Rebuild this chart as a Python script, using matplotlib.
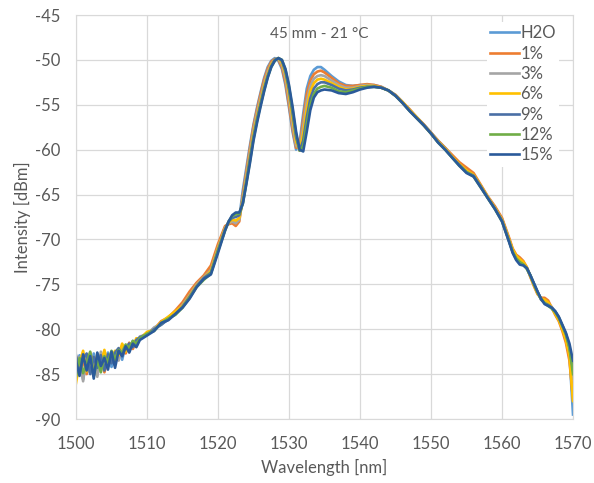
import matplotlib
matplotlib.use("Agg")
import matplotlib.pyplot as plt

# wavelength grid [nm]
wavelength = [
    1500.0, 1500.5, 1501.0, 1501.5, 1502.0, 1502.5, 1503.0, 1503.5, 1504.0, 1504.5,
    1505.0, 1505.5, 1506.0, 1506.5, 1507.0, 1507.5, 1508.0, 1508.5, 1509.0,
    1510, 1511, 1512, 1513, 1514, 1515, 1516, 1517, 1518, 1519, 1520, 1521,
    1521.5, 1522.0, 1522.5, 1523.0, 1523.5, 1524.0, 1524.5, 1525.0, 1525.5, 1526.0,
    1526.5, 1527.0, 1527.5, 1528.0, 1528.5, 1529.0, 1529.5, 1530.0, 1530.5, 1531.0,
    1531.5, 1532.0, 1532.5, 1533.0, 1533.5, 1534.0, 1534.5, 1535.0,
    1536, 1537, 1538, 1539, 1540, 1541, 1542, 1543, 1544, 1545, 1546, 1547, 1548,
    1549, 1550, 1551, 1552, 1553, 1554, 1555, 1556, 1557, 1558, 1559, 1560, 1561,
    1561.5, 1562.0, 1562.5, 1563.0, 1563.5, 1564.0, 1564.5, 1565.0, 1565.5, 1566.0,
    1566.5, 1567.0, 1567.5, 1568.0, 1568.5, 1569.0, 1569.5, 1570.0,
]

# intensity [dBm] per concentration
h2o = [
    -84.8, -82.9, -85.6, -83.4, -84.9, -82.7, -85.1, -83.0, -84.0, -82.6,
    -84.2, -83.1, -82.2, -83.4, -81.8, -82.3, -81.3, -81.9, -80.9,
    -80.5, -79.9, -79.5, -78.8, -78.1, -77.2, -76.0, -74.9, -74.2, -73.2, -70.8, -68.6,
    -68.2, -68.0, -68.2, -67.6, -64.5, -62.0, -59.5, -57.2, -55.3, -53.6,
    -52.0, -50.8, -50.1, -49.8, -50.1, -51.0, -52.8, -55.3, -58.0, -60.0,
    -59.2, -56.0, -53.2, -51.8, -51.1, -50.8, -50.8, -51.1,
    -51.8, -52.4, -52.8, -52.9, -52.8, -52.8, -52.8, -53.0, -53.4, -53.9, -54.7, -55.6, -56.4,
    -57.2, -58.1, -59.0, -59.8, -60.7, -61.6, -62.3, -62.9, -64.0, -65.3, -66.4, -67.7, -70.0,
    -71.2, -72.0, -72.3, -72.6, -73.2, -74.1, -75.0, -75.9, -76.6, -77.0,
    -77.3, -77.6, -78.2, -78.9, -79.8, -80.9, -82.8, -89.5,
]
c1 = [
    -83.0, -84.6, -83.5, -85.0, -82.6, -84.2, -83.6, -82.8, -84.8, -83.3,
    -82.7, -83.6, -82.8, -82.1, -82.7, -81.5, -82.2, -81.4, -81.0,
    -80.4, -80.0, -79.1, -78.7, -77.9, -77.0, -75.8, -74.8, -74.0, -72.9, -70.5, -68.5,
    -68.3, -68.2, -68.5, -68.0, -65.0, -62.4, -59.8, -57.4, -55.5, -53.8,
    -52.2, -51.0, -50.2, -49.9, -50.0, -50.8, -52.5, -55.0, -57.7, -59.8,
    -59.6, -56.6, -53.8, -52.3, -51.6, -51.3, -51.2, -51.4,
    -52.0, -52.6, -52.9, -52.9, -52.8, -52.7, -52.8, -53.0, -53.4, -53.9, -54.7, -55.5, -56.4,
    -57.2, -58.1, -59.0, -59.8, -60.6, -61.4, -62.0, -62.6, -63.9, -65.2, -66.3, -67.6, -69.8,
    -71.0, -71.7, -72.0, -72.4, -73.1, -74.2, -75.2, -76.1, -76.5, -76.5,
    -76.8, -77.6, -78.4, -79.1, -80.2, -81.5, -83.5, -87.8,
]
c3 = [
    -84.2, -83.1, -85.8, -82.9, -84.0, -83.6, -85.3, -82.5, -83.9, -84.1,
    -82.9, -82.6, -83.5, -82.0, -82.3, -81.9, -81.4, -81.7, -80.8,
    -80.6, -79.8, -79.4, -78.9, -78.2, -77.3, -76.2, -75.0, -74.2, -73.4, -70.9, -68.7,
    -68.2, -68.0, -68.2, -67.8, -65.4, -62.9, -60.3, -57.8, -55.9, -54.2,
    -52.6, -51.3, -50.4, -50.0, -49.9, -50.5, -52.0, -54.4, -57.2, -59.5,
    -60.0, -57.4, -54.6, -52.9, -52.1, -51.8, -51.7, -51.8,
    -52.3, -52.8, -53.1, -53.1, -52.9, -52.8, -52.9, -53.1, -53.4, -54.0, -54.8, -55.6, -56.5,
    -57.3, -58.2, -59.1, -59.9, -60.8, -61.7, -62.4, -62.9, -64.1, -65.3, -66.5, -67.8, -70.1,
    -71.3, -72.0, -72.4, -72.7, -73.2, -74.1, -75.0, -75.9, -76.7, -77.0,
    -77.2, -77.5, -78.1, -78.8, -79.7, -80.7, -82.3, -85.5,
]
c6 = [
    -86.0, -83.7, -82.4, -84.7, -83.3, -84.9, -82.8, -83.9, -82.3, -84.0,
    -83.2, -82.4, -82.9, -81.6, -82.5, -81.7, -81.9, -81.0, -81.1,
    -80.3, -80.1, -79.2, -78.6, -78.0, -77.4, -76.3, -75.1, -74.3, -73.5, -71.0, -68.8,
    -68.1, -67.8, -67.9, -67.6, -65.7, -63.2, -60.7, -58.2, -56.3, -54.6,
    -52.9, -51.6, -50.5, -50.0, -49.8, -50.3, -51.6, -53.8, -56.5, -59.1,
    -60.1, -58.2, -55.5, -53.5, -52.6, -52.2, -52.1, -52.2,
    -52.6, -53.0, -53.3, -53.2, -53.0, -52.9, -52.9, -53.1, -53.4, -54.0, -54.7, -55.6, -56.4,
    -57.3, -58.2, -59.1, -59.9, -60.8, -61.6, -62.3, -62.8, -64.0, -65.3, -66.5, -67.8, -70.0,
    -71.1, -71.8, -72.2, -72.5, -73.1, -74.1, -75.1, -76.0, -76.6, -76.7,
    -77.0, -77.6, -78.3, -79.0, -80.0, -81.2, -83.0, -88.0,
]
c9 = [
    -82.9, -84.9, -83.3, -82.7, -85.0, -83.1, -84.3, -82.9, -84.6, -82.8,
    -83.8, -82.6, -82.1, -83.0, -82.0, -81.6, -82.0, -81.2, -80.9,
    -80.6, -80.0, -79.5, -78.9, -78.3, -77.5, -76.4, -75.2, -74.3, -73.7, -71.2, -68.9,
    -68.0, -67.6, -67.5, -67.3, -65.9, -63.5, -61.0, -58.6, -56.6, -54.9,
    -53.2, -51.8, -50.7, -50.0, -49.8, -50.1, -51.3, -53.3, -55.9, -58.6,
    -60.1, -59.0, -56.4, -54.3, -53.2, -52.7, -52.5, -52.5,
    -52.8, -53.2, -53.4, -53.3, -53.1, -53.0, -53.0, -53.1, -53.4, -54.0, -54.8, -55.7, -56.5,
    -57.3, -58.2, -59.2, -60.0, -60.9, -61.7, -62.5, -62.9, -64.1, -65.4, -66.6, -67.9, -70.2,
    -71.4, -72.2, -72.6, -72.8, -73.2, -74.0, -74.9, -75.8, -76.7, -77.1,
    -77.3, -77.6, -78.0, -78.7, -79.6, -80.5, -82.0, -84.5,
]
c12 = [
    -85.3, -83.2, -84.9, -83.8, -82.5, -85.2, -83.4, -84.8, -83.0, -83.7,
    -82.4, -83.4, -82.3, -82.6, -81.7, -82.1, -81.3, -81.6, -81.0,
    -80.5, -80.2, -79.3, -78.8, -78.4, -77.6, -76.5, -75.3, -74.5, -73.8, -71.3, -69.0,
    -68.0, -67.4, -67.2, -67.1, -66.0, -63.7, -61.3, -58.8, -56.8, -55.0,
    -53.4, -51.9, -50.8, -50.1, -49.8, -50.0, -51.1, -53.0, -55.5, -58.3,
    -60.1, -59.6, -57.2, -55.0, -53.8, -53.2, -53.0, -52.9,
    -53.1, -53.5, -53.6, -53.4, -53.2, -53.0, -53.0, -53.1, -53.4, -54.0, -54.8, -55.7, -56.5,
    -57.3, -58.2, -59.2, -60.0, -60.9, -61.8, -62.5, -63.0, -64.2, -65.4, -66.6, -68.0, -70.2,
    -71.4, -72.1, -72.5, -72.8, -73.3, -74.0, -75.0, -75.9, -76.6, -77.1,
    -77.4, -77.7, -78.1, -78.7, -79.6, -80.6, -82.1, -85.0,
]
c15 = [
    -83.5, -85.2, -82.8, -84.6, -83.0, -85.5, -82.6, -84.1, -83.2, -84.5,
    -82.5, -84.3, -82.4, -83.0, -81.9, -82.6, -81.6, -82.0, -81.2,
    -80.7, -80.2, -79.3, -79.0, -78.3, -77.6, -76.6, -75.3, -74.4, -73.9, -71.5, -69.0,
    -68.0, -67.3, -67.0, -67.0, -66.0, -63.8, -61.5, -59.0, -57.0, -55.2,
    -53.5, -52.0, -50.8, -50.1, -49.8, -50.0, -51.0, -52.8, -55.2, -58.0,
    -60.0, -60.2, -58.0, -55.6, -54.2, -53.6, -53.4, -53.3,
    -53.4, -53.7, -53.8, -53.6, -53.3, -53.1, -53.0, -53.1, -53.4, -54.0, -54.8, -55.7, -56.5,
    -57.3, -58.2, -59.2, -60.0, -60.9, -61.8, -62.6, -63.0, -64.2, -65.4, -66.6, -68.0, -70.3,
    -71.5, -72.3, -72.8, -72.9, -73.2, -74.0, -74.9, -75.8, -76.6, -77.2,
    -77.4, -77.6, -78.0, -78.6, -79.5, -80.4, -81.6, -83.5,
]

labels = ["H2O", "1%", "3%", "6%", "9%", "12%", "15%"]
colors = ["#5B9BD5", "#ED7D31", "#A5A5A5", "#FFC000", "#4A6FA5", "#70AD47", "#2A5A9A"]
series = [h2o, c1, c3, c6, c9, c12, c15]

txt = "#595959"
plt.rcParams["font.family"] = ["Lato", "DejaVu Sans"]
plt.rcParams["axes.unicode_minus"] = False

fig = plt.figure(figsize=(5.94, 4.83), dpi=100)
ax = fig.add_axes([76 / 594, 64 / 483, 497 / 594, 404 / 483])

for y, lab, col in zip(series, labels, colors):
    ax.plot(wavelength, y, color=col, lw=1.9, label=lab)

ax.set_xlim(1500, 1570)
ax.set_ylim(-90, -45)
ax.set_xticks(range(1500, 1571, 10))
ax.set_yticks(range(-90, -44, 5))
ax.grid(True, color="#D9D9D9", lw=0.9)
ax.set_axisbelow(True)
for s in ax.spines.values():
    s.set_color("#D9D9D9")
ax.tick_params(length=0, labelsize=12, colors=txt)
ax.tick_params(axis="x", pad=12)
ax.tick_params(axis="y", pad=11)
ax.set_xlabel("Wavelength [nm]", fontsize=12, color=txt, labelpad=5)
ax.set_ylabel("Intensity [dBm]", fontsize=12, color=txt, labelpad=3)

ax.text(1534.2, -47.1, "45 mm - 21 °C", ha="center", va="center",
        fontsize=11, color=txt)

leg = ax.legend(loc="upper left", bbox_to_anchor=(487 / 594, 1 - 22 / 483),
                bbox_transform=fig.transFigure, fontsize=12, frameon=True,
                fancybox=False, handlelength=1.7, handletextpad=0.1,
                labelspacing=0.26, borderpad=0.2, borderaxespad=0)
leg.get_frame().set_facecolor("white")
leg.get_frame().set_edgecolor("none")
leg.get_frame().set_alpha(1)
for t in leg.get_texts():
    t.set_color(txt)

fig.savefig("out.png", dpi=100)
